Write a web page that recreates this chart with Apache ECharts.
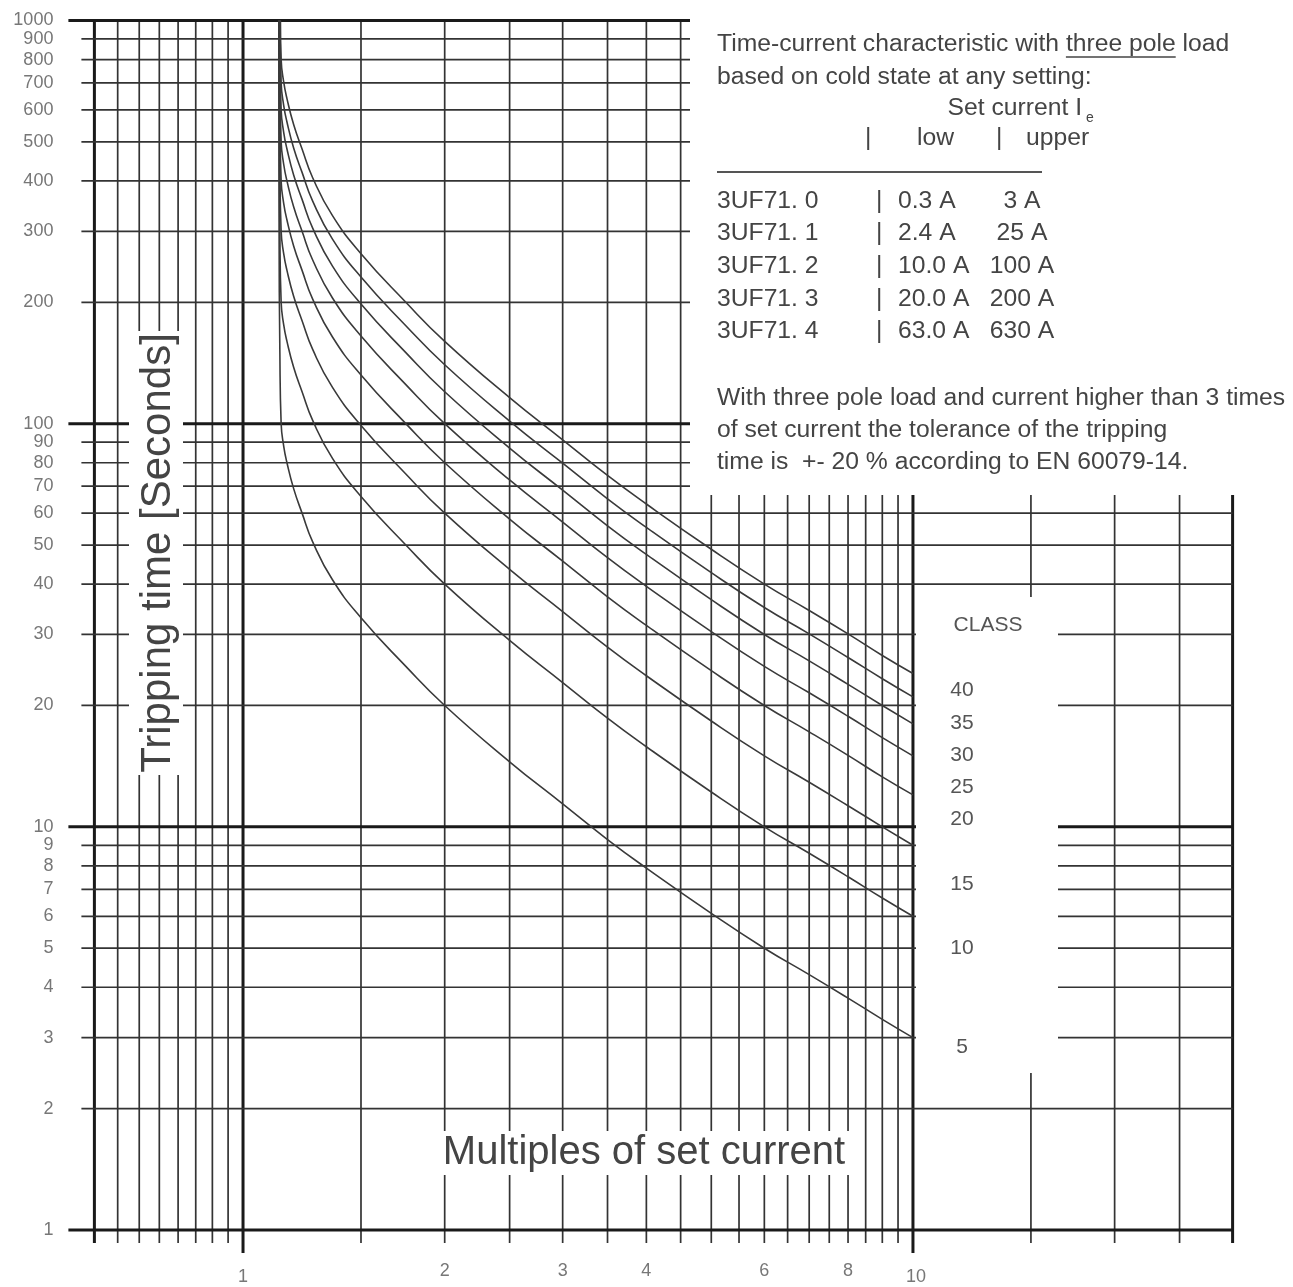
<!DOCTYPE html>
<html>
<head>
<meta charset="utf-8">
<script src="https://cdn.jsdelivr.net/npm/echarts@6/dist/echarts.min.js"></script>
<style>
html,body{margin:0;padding:0;background:#ffffff;}
#chart{width:1293px;height:1287px;}
</style>
</head>
<body>
<div id="chart"></div>
<script>
// ---------------- data ----------------
const multipleLines = [0.6,0.65,0.7,0.75,0.8,0.85,0.9,0.95,1,1.5,2,2.5,3,3.5,4,4.5,5,5.5,6,6.5,7,7.5,8,8.5,9,9.5,10,15,20,25,30];
const boldMultiples = [0.6,1,10,30];
const longTickMultiples = [1,10];
const secondLines = [1,2,3,4,5,6,7,8,9,10,20,30,40,50,60,70,80,90,100,200,300,400,500,600,700,800,900,1000];
const boldSeconds = [1,10,100,1000];
const xTickLabels = [1,2,3,4,6,8,10];
const yTickLabels = [1,2,3,4,5,6,7,8,9,10,20,30,40,50,60,70,80,90,100,200,300,400,500,600,700,800,900,1000];

const class5  = [[1.131,1000],[1.132,300],[1.135,150],[1.14,100],[1.15,88],[1.163,80],[1.19,69],[1.225,60],[1.27,51],[1.36,41],[1.5,33],[1.75,25],[2,20],[2.5,14.5],[3,11.4],[3.5,9.3],[4,7.9],[5,6.1],[6,5],[7,4.3],[8,3.76],[9,3.33],[10,3]];
const class10 = [[1.1316,1000],[1.132,600],[1.135,300],[1.14,200],[1.15,176],[1.163,160],[1.19,138],[1.225,120],[1.27,102],[1.36,82],[1.5,66],[1.75,50],[2,40],[2.5,29],[3,22.8],[3.5,18.6],[4,15.8],[5,12.2],[6,10],[7,8.6],[8,7.52],[9,6.66],[10,6]];
const class15 = [[1.1319,1000],[1.135,450],[1.14,300],[1.15,264],[1.163,240],[1.19,207],[1.225,180],[1.27,153],[1.36,123],[1.5,99],[1.75,75],[2,60],[2.5,43.5],[3,34.2],[3.5,27.9],[4,23.7],[5,18.3],[6,15],[7,12.9],[8,11.28],[9,10],[10,9]];
const class20 = [[1.1328,1000],[1.135,600],[1.14,400],[1.15,352],[1.163,320],[1.19,276],[1.225,240],[1.27,204],[1.36,164],[1.5,132],[1.75,100],[2,80],[2.5,58],[3,45.6],[3.5,37.2],[4,31.6],[5,24.4],[6,20],[7,17.2],[8,15.04],[9,13.3],[10,12]];
const class25 = [[1.1338,1000],[1.135,750],[1.14,500],[1.15,440],[1.163,400],[1.19,345],[1.225,300],[1.27,255],[1.36,205],[1.5,165],[1.75,125],[2,100],[2.5,72.5],[3,57],[3.5,46.5],[4,39.5],[5,30.5],[6,25],[7,21.5],[8,18.8],[9,16.65],[10,15]];
const class30 = [[1.1345,1000],[1.135,900],[1.14,600],[1.15,528],[1.163,480],[1.19,414],[1.225,360],[1.27,306],[1.36,246],[1.5,198],[1.75,150],[2,120],[2.5,87],[3,68.4],[3.5,55.8],[4,47.4],[5,36.6],[6,30],[7,25.8],[8,22.56],[9,20],[10,18]];
const class35 = [[1.1356,1000],[1.14,700],[1.15,616],[1.163,560],[1.19,483],[1.225,420],[1.27,357],[1.36,287],[1.5,231],[1.75,175],[2,140],[2.5,101.5],[3,79.8],[3.5,65.1],[4,55.3],[5,42.7],[6,35],[7,30.1],[8,26.3],[9,23.3],[10,21]];
const class40 = [[1.1372,1000],[1.14,800],[1.15,704],[1.163,640],[1.19,552],[1.225,480],[1.27,408],[1.36,328],[1.5,264],[1.75,200],[2,160],[2.5,116],[3,91.2],[3.5,74.4],[4,63.2],[5,48.8],[6,40],[7,34.4],[8,30.1],[9,26.6],[10,24]];
const classCurves = [class5,class10,class15,class20,class25,class30,class35,class40];
const classNumbers = [5,10,15,20,25,30,35,40];

const classHeading = 'CLASS';
const classLabels = ['40','35','30','25','20','15','10','5'];
const noteLines = ['Time-current characteristic with three pole load','based on cold state at any setting:'];
const tableNames = ['3UF71. 0','3UF71. 1','3UF71. 2','3UF71. 3','3UF71. 4'];
const tableLow = ['0.3 A','2.4 A','10.0 A','20.0 A','63.0 A'];
const tableUpper = ['3 A','25 A','100 A','200 A','630 A'];
const toleranceLines = ['With three pole load and current higher than 3 times','of set current the tolerance of the tripping','time is  +- 20 % according to EN 60079-14.'];
const yTitle = 'Tripping time [Seconds]';
const xTitle = 'Multiples of set current';

// ---------------- layout / style ----------------
const FONT = '"Liberation Sans", Arial, Helvetica, sans-serif';
const TXT = '#444';
const LBL = '#777';
const GRID = {left:94.4, top:20.5, width:1138.2, height:1209.5};
const X_MIN = 0.6, X_MAX = 30, Y_MIN = 1, Y_MAX = 1000;

function measure(text, size){
  const c = document.createElement('canvas').getContext('2d');
  c.font = size + 'px ' + FONT;
  return c.measureText(text).width;
}
function txt(text, x, y, size, fill, align, extra){
  return Object.assign({
    type:'text', x:x, y:y, z:100, silent:true,
    style:{text:text, fill:fill, fontSize:size, fontFamily:FONT,
           align:align||'left', verticalAlign:'middle',
           textAlign:align||'left', textVerticalAlign:'middle'}
  }, extra||{});
}

const NOTE_SIZE = 24.7;
const graphics = [];
// white label backgrounds
graphics.push({type:'rect', z:50, silent:true, shape:{x:690,y:0,width:603,height:495}, style:{fill:'#fff'}});
graphics.push({type:'rect', z:50, silent:true, shape:{x:916,y:597,width:142,height:476}, style:{fill:'#fff'}});
graphics.push({type:'rect', z:50, silent:true, shape:{x:129,y:331,width:54,height:444}, style:{fill:'#fff'}});
graphics.push({type:'rect', z:50, silent:true, shape:{x:437,y:1131,width:412,height:44}, style:{fill:'#fff'}});

// notes
graphics.push(txt(noteLines[0], 717, 44, NOTE_SIZE, TXT));
graphics.push(txt(noteLines[1], 717, 77, NOTE_SIZE, TXT));
const preW = measure('Time-current characteristic with ', NOTE_SIZE);
const ulW = measure('three pole', NOTE_SIZE);
graphics.push({type:'line', z:100, silent:true, shape:{x1:717+preW, y1:57, x2:717+preW+ulW, y2:57}, style:{stroke:TXT, lineWidth:1.5}});
graphics.push(txt('Set current I', 1082, 108, NOTE_SIZE, TXT, 'right'));
graphics.push(txt('e', 1086, 118, 14, TXT));
graphics.push(txt('|', 865, 138, NOTE_SIZE, TXT));
graphics.push(txt('low', 917, 138, NOTE_SIZE, TXT));
graphics.push(txt('|', 996, 138, NOTE_SIZE, TXT));
graphics.push(txt('upper', 1026, 138, NOTE_SIZE, TXT));
graphics.push({type:'line', z:100, silent:true, shape:{x1:717, y1:172, x2:1042, y2:172}, style:{stroke:'#555', lineWidth:2}});
const rowY = [201, 233, 266, 299, 331];
tableNames.forEach((n, i) => {
  graphics.push(txt(n, 717, rowY[i], NOTE_SIZE, TXT));
  graphics.push(txt('|', 876, rowY[i], NOTE_SIZE, TXT));
  graphics.push(txt(tableLow[i], 898, rowY[i], NOTE_SIZE, TXT));
  graphics.push(txt(tableUpper[i], 1022, rowY[i], NOTE_SIZE, TXT, 'center'));
});
const tolY = [398, 430, 462];
toleranceLines.forEach((l, i) => graphics.push(txt(l, 717, tolY[i], NOTE_SIZE, TXT)));

// class labels
graphics.push(txt(classHeading, 988, 625, 21, '#555', 'center'));
const classY = [690, 723, 755, 787, 819, 884, 948, 1047];
classLabels.forEach((c, i) => graphics.push(txt(c, 962, classY[i], 21, '#555', 'center')));

// axis titles
graphics.push(txt(yTitle, 158, 553, 42, TXT, 'center', {rotation: Math.PI/2}));
graphics.push(txt(xTitle, 644, 1153, 40, TXT, 'center'));

// ---------------- chart ----------------
const chart = echarts.init(document.getElementById('chart'), null, {renderer:'canvas'});

const series = [];
// vertical grid lines
series.push({
  type:'custom', silent:true, z:1, animation:false,
  data: multipleLines.map(v => [v, Y_MIN]),
  renderItem: function(params, api){
    const v = api.value(0);
    const top = api.coord([v, Y_MAX]);
    const bot = api.coord([v, Y_MIN]);
    const bold = boldMultiples.indexOf(v) >= 0;
    const tick = longTickMultiples.indexOf(v) >= 0 ? 23 : 13;
    return {type:'line', shape:{x1:top[0], y1:top[1], x2:bot[0], y2:bot[1] + tick},
            style:{stroke: bold ? '#1a1a1a' : '#333', lineWidth: bold ? 3 : 1.7}};
  }
});
// horizontal grid lines
series.push({
  type:'custom', silent:true, z:1, animation:false,
  data: secondLines.map(t => [X_MIN, t]),
  renderItem: function(params, api){
    const t = api.value(1);
    const l = api.coord([X_MIN, t]);
    const r = api.coord([X_MAX, t]);
    const bold = boldSeconds.indexOf(t) >= 0;
    return {type:'line', shape:{x1:l[0] - (bold ? 26 : 13), y1:l[1], x2:r[0], y2:r[1]},
            style:{stroke: bold ? '#1a1a1a' : '#333', lineWidth: bold ? 3 : 1.7}};
  }
});
// tick labels
series.push({
  type:'custom', silent:true, z:3, animation:false,
  data: yTickLabels.map(t => [X_MIN, t]),
  renderItem: function(params, api){
    const t = api.value(1);
    const p = api.coord([X_MIN, t]);
    return {type:'text', x:p[0] - 41, y:p[1],
            style:{text:String(t), fill:LBL, fontSize:18, fontFamily:FONT,
                   align:'right', verticalAlign:'middle', textAlign:'right', textVerticalAlign:'middle'}};
  }
});
series.push({
  type:'custom', silent:true, z:3, animation:false,
  data: xTickLabels.map(v => [v, Y_MIN]),
  renderItem: function(params, api){
    const v = api.value(0);
    const p = api.coord([v, Y_MIN]);
    const longTick = longTickMultiples.indexOf(v) >= 0;
    return {type:'text', x:p[0] + (v === 10 ? 3 : 0), y:p[1] + (longTick ? 47 : 41),
            style:{text:String(v), fill:LBL, fontSize:18, fontFamily:FONT,
                   align:'center', verticalAlign:'middle', textAlign:'center', textVerticalAlign:'middle'}};
  }
});
// tripping curves
classCurves.forEach((d, i) => {
  series.push({
    type:'line', name:'CLASS ' + classNumbers[i], data:d,
    showSymbol:false, smooth:0.5, z:5, animation:false, silent:true,
    lineStyle:{color:'#3a3a3a', width:1.6}
  });
});

chart.setOption({
  backgroundColor:'#ffffff',
  animation:false,
  grid:{left:GRID.left, top:GRID.top, width:GRID.width, height:GRID.height, containLabel:false},
  xAxis:{type:'log', logBase:10, min:X_MIN, max:X_MAX,
         axisLine:{show:false}, axisTick:{show:false}, axisLabel:{show:false}, splitLine:{show:false}},
  yAxis:{type:'log', logBase:10, min:Y_MIN, max:Y_MAX,
         axisLine:{show:false}, axisTick:{show:false}, axisLabel:{show:false}, splitLine:{show:false}},
  tooltip:{show:false},
  graphic:{elements:graphics},
  series:series
});
</script>
</body>
</html>
